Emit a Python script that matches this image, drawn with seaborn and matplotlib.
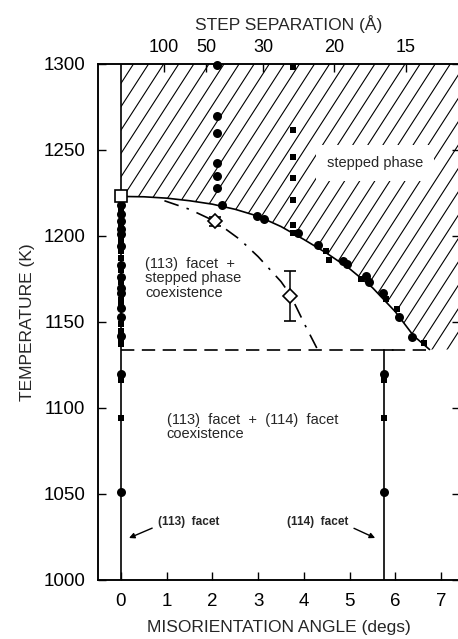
import numpy as np
import pandas as pd
import matplotlib
matplotlib.use("Agg")
import matplotlib.pyplot as plt
import seaborn as sns
from matplotlib.patches import Polygon
from matplotlib.collections import LineCollection

sns.set_theme(style="ticks")
plt.rcParams["font.family"] = ["Liberation Sans", "DejaVu Sans"]

# ---------------- data ----------------
# (113) facet column (angle 0)
facet113_circ_T = [1218, 1213, 1209, 1204, 1201, 1194, 1183, 1176, 1170, 1167,
                   1158, 1153, 1142, 1120, 1051]
facet113_sq_T = [1215, 1207, 1198, 1195, 1191, 1187, 1180, 1173, 1163, 1160,
                 1149, 1145, 1139, 1137, 1116, 1094]
# (114) facet column
facet114_angle = 5.75
facet114_circ_T = [1120, 1051]
facet114_sq_T = [1116, 1094]
# stepped-phase columns
col1_circ_x = [2.09, 2.09, 2.09, 2.09, 2.09, 2.09]
col1_circ_T = [1299.5, 1270, 1260, 1242.5, 1235, 1228]
col2_sq_x = [3.76, 3.76, 3.76, 3.76, 3.76, 3.76]
col2_sq_T = [1298.3, 1261.6, 1246, 1233.7, 1221, 1206.4]
# points along the phase boundary
bnd_circ_x = [2.21, 2.98, 3.13, 3.87, 4.31, 4.86, 4.94, 5.36, 5.43, 5.73, 6.08, 6.37]
bnd_circ_T = [1218, 1211.6, 1209.9, 1201.7, 1194.8, 1185.5, 1183.7, 1176.7, 1173.3,
              1166.9, 1152.9, 1141.3]
bnd_sq_x = [3.76, 4.48, 4.55, 5.25, 5.80, 6.04, 6.63]
bnd_sq_T = [1202, 1191.3, 1186, 1175, 1163.4, 1157.6, 1137.8]
# phase boundary (solid)
boundary_x = [0, 0.5, 1.0, 1.5, 2.0, 2.5, 3.0, 3.5, 4.0, 4.5, 5.0, 5.5, 6.0, 6.4, 6.75]
boundary_T = [1223, 1222.8, 1222, 1220.5, 1218.5, 1215.5, 1211.5, 1205.5, 1198, 1190,
              1181, 1170, 1156, 1142, 1134]
# dash-dot curve
dd_x = [0.95, 1.5, 2.06, 2.6, 3.0, 3.5, 3.7, 4.03, 4.3]
dd_T = [1220.5, 1215.5, 1208.5, 1198, 1188, 1173.5, 1166, 1148, 1134]
# open diamonds with error bars
diam_x = [2.06, 3.70]
diam_T = [1208.5, 1165]
diam_err = [2.5, 14.5]
# open square (roughening point)
sq_open_x = [0]
sq_open_T = [1223]
# triple line temperature
T_triple = 1134
# top axis: step separation (Angstrom), step height constant (Angstrom)
step_sep = [100, 50, 30, 20, 15]
step_height = 1.63

# ---------------- figure ----------------
W, H = 458, 639
fig = plt.figure(figsize=(W / 100, H / 100), dpi=100)
ax = fig.add_axes([98 / W, 1 - 580 / H, 362 / W, 516 / H])
xmin, xmax = -0.503, 7.416
ax.set_xlim(xmin, xmax)
ax.set_ylim(1000, 1300)

lw = 1.2
# hatched stepped-phase region
verts = [(0, 1300)] + list(zip(boundary_x, boundary_T)) + [(xmax, T_triple), (xmax, 1300)]
poly = Polygon(verts, closed=True, facecolor="none", edgecolor="none")
ax.add_patch(poly)
slope = 1.55 * (45.71 / 1.72)
segs = [[(x0, 1000), (x0 + 300 / slope, 1300)] for x0 in np.arange(-8, 7.6, 0.33)]
lc = LineCollection(segs, colors="black", linewidths=0.8, zorder=1)
ax.add_collection(lc)
lc.set_clip_path(poly)

# lines
sns.lineplot(x=boundary_x, y=boundary_T, sort=False, estimator=None, color="black",
             lw=lw, ax=ax, zorder=2)
sns.lineplot(x=dd_x, y=dd_T, sort=False, estimator=None, color="black",
             lw=lw, ax=ax, zorder=2)
ax.lines[-1].set_dashes([9, 5, 1.5, 5])
ax.plot([0, 6.75], [T_triple, T_triple], color="black", lw=lw, dashes=[8, 4.5], zorder=2)
ax.plot([0, 0], [1000, 1300], color="black", lw=lw, zorder=2)
ax.plot([facet114_angle, facet114_angle], [1000, T_triple], color="black", lw=lw, zorder=2)
ax.plot([facet114_angle, facet114_angle + 0.2], [T_triple, T_triple], color="black", lw=lw, zorder=2)

# markers
circ_x = [0] * len(facet113_circ_T) + [facet114_angle] * len(facet114_circ_T) + col1_circ_x + bnd_circ_x
circ_T = facet113_circ_T + facet114_circ_T + col1_circ_T + bnd_circ_T
sq_x = [0] * len(facet113_sq_T) + [facet114_angle] * len(facet114_sq_T) + col2_sq_x + bnd_sq_x
sq_T = facet113_sq_T + facet114_sq_T + col2_sq_T + bnd_sq_T
df_c = pd.DataFrame({"angle": circ_x, "T": circ_T})
df_s = pd.DataFrame({"angle": sq_x, "T": sq_T})
sns.scatterplot(data=df_c, x="angle", y="T", marker="o", s=42, color="black",
                linewidth=0, ax=ax, zorder=4, clip_on=False)
sns.scatterplot(data=df_s, x="angle", y="T", marker="s", s=24, color="black",
                linewidth=0, ax=ax, zorder=4, clip_on=False)
ax.errorbar(diam_x, diam_T, yerr=diam_err, fmt="D", ms=7, mfc="white", mec="black",
            mew=1.2, ecolor="black", elinewidth=1.1, capsize=4, capthick=1.1, zorder=5)
ax.plot(sq_open_x, sq_open_T, "s", ms=9, mfc="white", mec="black", mew=1.2, zorder=6,
        clip_on=False)

# text
ax.text(0.525, 1188, "(113)  facet  +\nstepped phase\ncoexistence", fontsize=10.5,
        va="top", ha="left", linespacing=1.05, zorder=6)
ax.text(5.56, 1242.4, "stepped phase", fontsize=10.5, ha="center", va="center", zorder=6,
        bbox=dict(facecolor="white", edgecolor="none", pad=8))
ax.text(1.0, 1097, "(113)  facet  +  (114)  facet\ncoexistence", fontsize=10.5,
        va="top", ha="left", linespacing=0.95, zorder=6)
ax.annotate("(113)  facet", xy=(0.175, 1024.4), xytext=(0.81, 1033.7), fontsize=8.5,
            fontweight="bold", va="center", ha="left",
            arrowprops=dict(arrowstyle="-|>", color="black", lw=1.0, mutation_scale=8,
                            shrinkA=2, shrinkB=0, relpos=(0, 0.2)))
ax.annotate("(114)  facet", xy=(5.56, 1024.4), xytext=(4.97, 1033.7), fontsize=8.5,
            fontweight="bold", va="center", ha="right",
            arrowprops=dict(arrowstyle="-|>", color="black", lw=1.0, mutation_scale=8,
                            shrinkA=2, shrinkB=0, relpos=(1, 0.2)))

# axes styling
ax.set_xticks(range(8))
ax.set_yticks(range(1000, 1301, 50))
ax.tick_params(direction="in", length=6, width=1.0, right=True, top=False,
               labelsize=13.5, pad=9, colors="black")
ax.set_xlabel("MISORIENTATION ANGLE (degs)", fontsize=12.5, labelpad=7.5)
ax.set_ylabel("TEMPERATURE (K)", fontsize=12.5, labelpad=6)
for sp in ax.spines.values():
    sp.set_linewidth(1.1)
    sp.set_color("black")

ax2 = ax.twiny()
ax2.set_xlim(xmin, xmax)
ax2.set_xticks([np.degrees(step_height / d) for d in step_sep])
ax2.set_xticklabels([str(d) for d in step_sep])
ax2.tick_params(direction="in", length=6, width=1.0, labelsize=13, pad=6, colors="black")
ax2.set_xlabel("STEP SEPARATION (Å)", fontsize=12.5)
ax2.xaxis.set_label_coords((289 - 98) / 362, 1 + (64 - 30) / 516)
for sp in ax2.spines.values():
    sp.set_linewidth(1.1)
    sp.set_color("black")

fig.savefig("out.png", dpi=100, facecolor="white")
